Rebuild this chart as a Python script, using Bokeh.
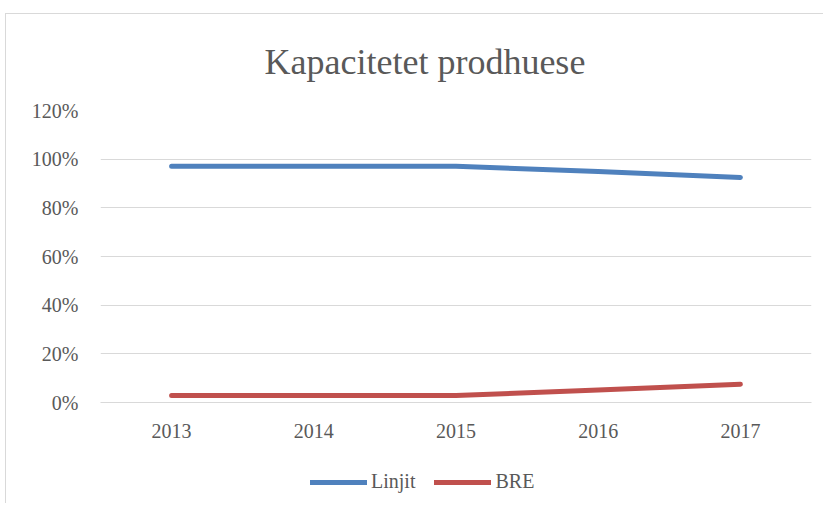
from bokeh.plotting import figure
from bokeh.layouts import column
from bokeh.models import FactorRange, Range1d, FixedTicker, NumeralTickFormatter, Legend, LegendItem, Title
from bokeh.embed import file_html
from bokeh.resources import INLINE

years = ["2013", "2014", "2015", "2016", "2017"]
linjit = [0.971, 0.971, 0.971, 0.949, 0.925]
bre = [0.029, 0.029, 0.029, 0.051, 0.075]
y_ticks = [0, 0.2, 0.4, 0.6, 0.8, 1.0, 1.2]
title_text = "Kapacitetet prodhuese"
series_names = ["Linjit", "BRE"]
colors = ["#4F81BD", "#C0504D"]

FONT = "Liberation Serif"
TXT = "#595959"
GRID = "#d9d9d9"

xr = FactorRange(*years, range_padding=0)

p = figure(width=817, height=443, x_range=xr,
           y_range=Range1d(0, 1.2), output_backend="svg", toolbar_location=None,
           min_border_left=94, min_border_right=12, min_border_top=95, min_border_bottom=55)
p.outline_line_color = None
p.background_fill_color = "white"
p.border_fill_color = "white"

t = Title(text=title_text, align="left", offset=164, text_font=FONT, text_font_size="36px",
          text_color=TXT, text_font_style="normal", standoff=54, vertical_align="top")
p.add_layout(t, "above")

p.line(years, linjit, line_color=colors[0], line_width=5, line_cap="round", line_join="round")
p.line(years, bre, line_color=colors[1], line_width=5, line_cap="round", line_join="round")

p.xgrid.grid_line_color = None
p.ygrid.grid_line_color = GRID
p.ygrid.grid_line_width = 1

p.yaxis.ticker = FixedTicker(ticks=y_ticks)
p.yaxis.formatter = NumeralTickFormatter(format="0%")
p.yaxis.axis_line_color = None
p.yaxis.major_tick_line_color = None
p.yaxis.minor_tick_line_color = None
p.yaxis.major_label_standoff = 16
p.yaxis.major_label_text_font = FONT
p.yaxis.major_label_text_font_size = "20px"
p.yaxis.major_label_text_color = TXT

p.xaxis.axis_line_color = GRID
p.xaxis.major_tick_line_color = None
p.xaxis.minor_tick_line_color = None
p.xaxis.major_label_standoff = 15
p.xaxis.major_label_text_font = FONT
p.xaxis.major_label_text_font_size = "20px"
p.xaxis.major_label_text_color = TXT

# legend strip below the chart (its lines use the same data, out of its view)
p2 = figure(width=817, height=46, x_range=xr, y_range=Range1d(2, 3),
            output_backend="svg", toolbar_location=None,
            min_border_left=94, min_border_right=12, min_border_top=0, min_border_bottom=0)
p2.axis.visible = False
p2.grid.grid_line_color = None
p2.outline_line_color = None
p2.border_fill_color = "white"
r1 = p2.line(years, linjit, line_color=colors[0], line_width=5, line_cap="round")
r2 = p2.line(years, bre, line_color=colors[1], line_width=5, line_cap="round")
legend = Legend(items=[LegendItem(label=series_names[0], renderers=[r1]),
                       LegendItem(label=series_names[1], renderers=[r2])],
                orientation="horizontal", location=(210, 10),
                label_text_font=FONT, label_text_font_size="20px", label_text_color=TXT,
                glyph_width=57, glyph_height=20, spacing=19, label_standoff=4,
                border_line_color=None, background_fill_alpha=0, margin=0, padding=0)
p2.add_layout(legend, "center")

layout = column(p, p2, spacing=0, margin=(13, 0, 0, 5),
                styles={"border-top": "1px solid #d9d9d9", "border-left": "1px solid #d9d9d9"})
open("out.html", "w").write(file_html(layout, INLINE))
